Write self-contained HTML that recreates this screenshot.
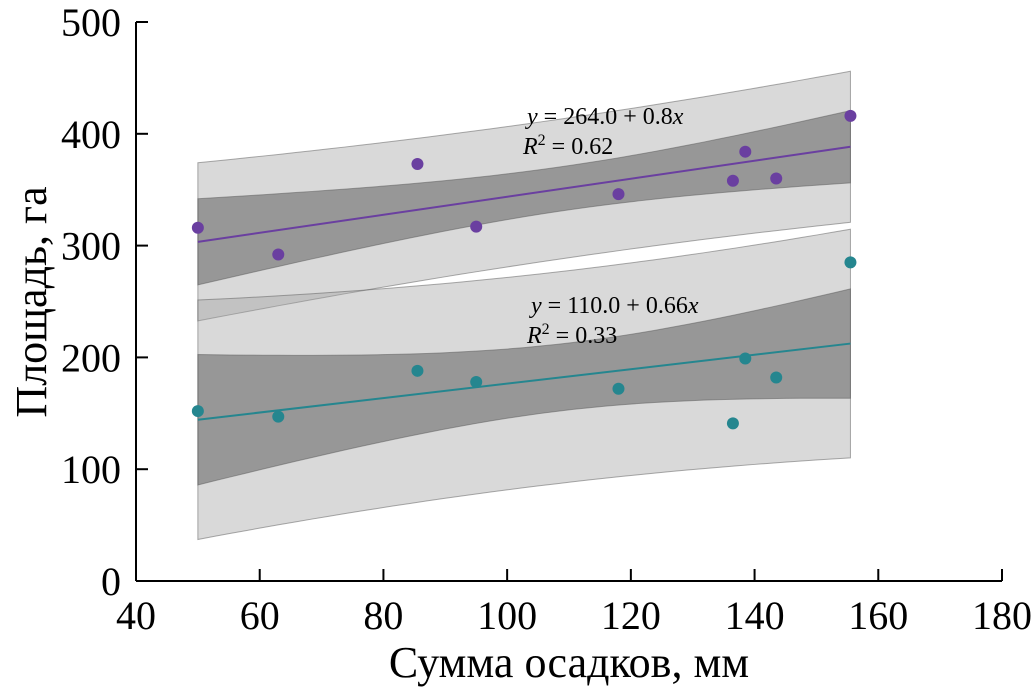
<!DOCTYPE html>
<html><head><meta charset="utf-8"><style>
html,body{margin:0;padding:0;background:#fff;}
svg{display:block;font-family:"Liberation Serif",serif;}
</style></head><body>
<svg id="chart" width="1033" height="688" viewBox="0 0 1033 688" xmlns="http://www.w3.org/2000/svg">
<g id="bands"></g>
<g id="axes"></g>
<g id="marks"></g>
</svg>
<script>
const xData = [50, 63, 85.5, 95, 118, 136.5, 138.5, 143.5, 155.5];
const seriesA = [316, 292, 373, 317, 346, 358, 384, 360, 416];
const seriesB = [152, 147, 188, 178, 172, 141, 199, 182, 285];
const xTicks = [40, 60, 80, 100, 120, 140, 160, 180];
const yTicks = [0, 100, 200, 300, 400, 500];
const colors = ["#6a3fa0", "#25868f"];

const NS = "http://www.w3.org/2000/svg";
const X = v => 136 + (v - 40) * (1002 - 136) / 140;
const Y = v => 581 - v * (581 - 22) / 500;
function el(tag, attrs, parent) {
  const e = document.createElementNS(NS, tag);
  for (const k in attrs) e.setAttribute(k, attrs[k]);
  parent.appendChild(e);
  return e;
}
const bands = document.getElementById('bands');
const axes = document.getElementById('axes');
const marks = document.getElementById('marks');

function fit(xs, ys) {
  const n = xs.length;
  const mx = xs.reduce((a,b)=>a+b)/n, my = ys.reduce((a,b)=>a+b)/n;
  let sxx=0, sxy=0;
  for (let i=0;i<n;i++){sxx+=(xs[i]-mx)**2; sxy+=(xs[i]-mx)*(ys[i]-my);}
  const b = sxy/sxx, a = my - b*mx;
  let sse=0; for (let i=0;i<n;i++) sse+=(ys[i]-a-b*xs[i])**2;
  const s = Math.sqrt(sse/(n-2));
  return {a,b,s,n,mx,sxx};
}
const T = 2.365;
function drawSeries(ys, color, label) {
  const f = fit(xData, ys);
  const x0 = Math.min(...xData), x1 = Math.max(...xData);
  const steps = 40;
  const xs = []; for (let i=0;i<=steps;i++) xs.push(x0 + (x1-x0)*i/steps);
  const pred = x => f.a + f.b*x;
  const ci = x => T*f.s*Math.sqrt(1/f.n + (x-f.mx)**2/f.sxx);
  const pi = x => T*f.s*Math.sqrt(1 + 1/f.n + (x-f.mx)**2/f.sxx);
  function band(fn, fill, name) {
    let d = xs.map((x,i)=>(i?'L':'M')+X(x)+','+Y(pred(x)+fn(x))).join(' ');
    d += ' ' + xs.slice().reverse().map(x=>'L'+X(x)+','+Y(pred(x)-fn(x))).join(' ') + ' Z';
    const p = el('path', {d, fill, stroke:'rgba(90,90,90,0.5)', 'stroke-width':1}, bands);
    
    
  }
  band(pi, 'rgba(160,160,160,0.4)', label+'-prediction-band');
  band(ci, 'rgba(70,70,70,0.45)', label+'-confidence-band');
  const ln = el('line', {x1:X(x0), y1:Y(pred(x0)), x2:X(x1), y2:Y(pred(x1)), stroke:color, 'stroke-width':2}, marks);
  
  
  xData.forEach((x,i)=>{
    const c = el('circle', {cx:X(x), cy:Y(ys[i]), r:6, fill:color}, marks);
    
    
  });
}
drawSeries(seriesA, colors[0], 'series-upper');
drawSeries(seriesB, colors[1], 'series-lower');

const xa = el('line', {x1:136, y1:581, x2:1002, y2:581, stroke:'#000', 'stroke-width':2}, axes);
 
const ya = el('line', {x1:136, y1:22, x2:136, y2:581, stroke:'#000', 'stroke-width':2}, axes);
 
xTicks.forEach(t=>{
  el('line', {x1:X(t), y1:581, x2:X(t), y2:569, stroke:'#000', 'stroke-width':2}, axes);
  const tx = el('text', {x:X(t), y:629, 'font-size':40, 'text-anchor':'middle'}, axes);
  tx.textContent = t;
  
  
});
yTicks.forEach(t=>{
  el('line', {x1:136, y1:Y(t), x2:148, y2:Y(t), stroke:'#000', 'stroke-width':2}, axes);
  const tx = el('text', {x:121, y:Y(t)+14, 'font-size':40, 'text-anchor':'end'}, axes);
  tx.textContent = t;
  
  
});
</script>
<svg style="position:absolute;left:0;top:0;font-family:'Liberation Serif',serif" width="1033" height="688">
<text x="569" y="677" font-size="44" text-anchor="middle">Сумма осадков, мм</text>
<text transform="translate(46,302) rotate(-90)" font-size="44" text-anchor="middle">Площадь, га</text>
<text x="527" y="124" font-size="24"><tspan font-style="italic">y</tspan> = 264.0 + 0.8<tspan font-style="italic">x</tspan></text>
<text x="523" y="154" font-size="24"><tspan font-style="italic">R</tspan><tspan dy="-9" font-size="16">2</tspan><tspan dy="9"> = 0.62</tspan></text>
<text x="531" y="313" font-size="24"><tspan font-style="italic">y</tspan> = 110.0 + 0.66<tspan font-style="italic">x</tspan></text>
<text x="527" y="343" font-size="24"><tspan font-style="italic">R</tspan><tspan dy="-9" font-size="16">2</tspan><tspan dy="9"> = 0.33</tspan></text>
</svg>
</body></html>
